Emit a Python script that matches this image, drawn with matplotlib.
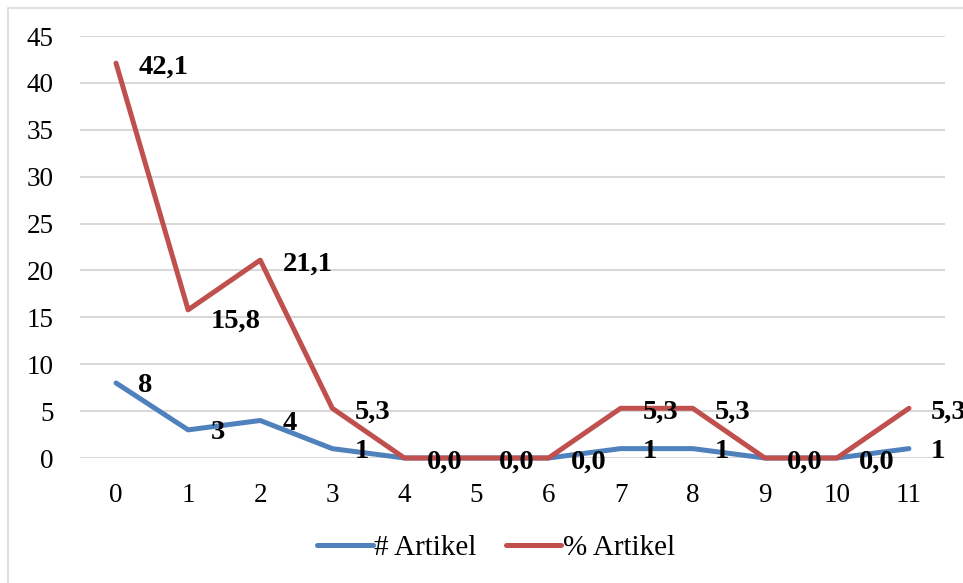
import matplotlib
matplotlib.use('Agg')
import matplotlib.pyplot as plt
from matplotlib.patches import Rectangle

# data
years = list(range(12))
n_artikel = [8, 3, 4, 1, 0, 0, 0, 1, 1, 0, 0, 1]
pct_artikel = [42.1, 15.8, 21.1, 5.3, 0.0, 0.0, 0.0, 5.3, 5.3, 0.0, 0.0, 5.3]

blue = '#4F81BD'
red = '#C0504D'
grid = '#D9D9D9'

plt.rcParams['font.family'] = ['Liberation Serif', 'DejaVu Serif']

fig = plt.figure(figsize=(9.63, 5.83), dpi=100)
# outer chart border
fig.patches.append(Rectangle((8 / 963, -0.1), 1.2, 1 - 8 / 583 + 0.1,
                             transform=fig.transFigure, fill=False,
                             edgecolor=grid, lw=1.2))

ax = fig.add_axes([80 / 963, 1 - 458 / 583, 865 / 963, 422 / 583])

ax.plot(years, n_artikel, color=blue, lw=3.6, label='# Artikel',
        solid_capstyle='round', clip_on=False, zorder=3)
ax.plot(years, pct_artikel, color=red, lw=3.6, label='% Artikel',
        solid_capstyle='round', clip_on=False, zorder=3)

# data labels, right of each point
for x, v in zip(years, n_artikel):
    if v == 0:
        continue
    ax.annotate(str(v), (x, v), xytext=(16, -2), textcoords='offset points',
                ha='left', va='center', fontsize=20.5, fontweight='bold',
                annotation_clip=False, zorder=4)
for x, v in zip(years, pct_artikel):
    dy = -8 if x == 1 else -3
    ax.annotate(f'{v:.1f}'.replace('.', ','), (x, v), xytext=(16, dy),
                textcoords='offset points', ha='left', va='center',
                fontsize=20.5, fontweight='bold', annotation_clip=False, zorder=4)

ax.set_xlim(-0.5, 11.5)
ax.set_ylim(0, 45)
ax.set_yticks(range(0, 46, 5))
ax.set_xticks(years)
ax.grid(axis='y', color=grid, lw=1.5)
ax.set_axisbelow(True)
for s in ax.spines.values():
    s.set_visible(False)
ax.tick_params(axis='both', length=0, labelsize=19.5)
ax.tick_params(axis='x', pad=18)
ax.tick_params(axis='y', pad=19)

fig.legend(loc='center', bbox_to_anchor=(0.515, 0.06), ncol=2, frameon=False,
           fontsize=21, handlelength=1.9, handletextpad=0.05,
           columnspacing=1.0)

plt.savefig('out.png', dpi=100)
